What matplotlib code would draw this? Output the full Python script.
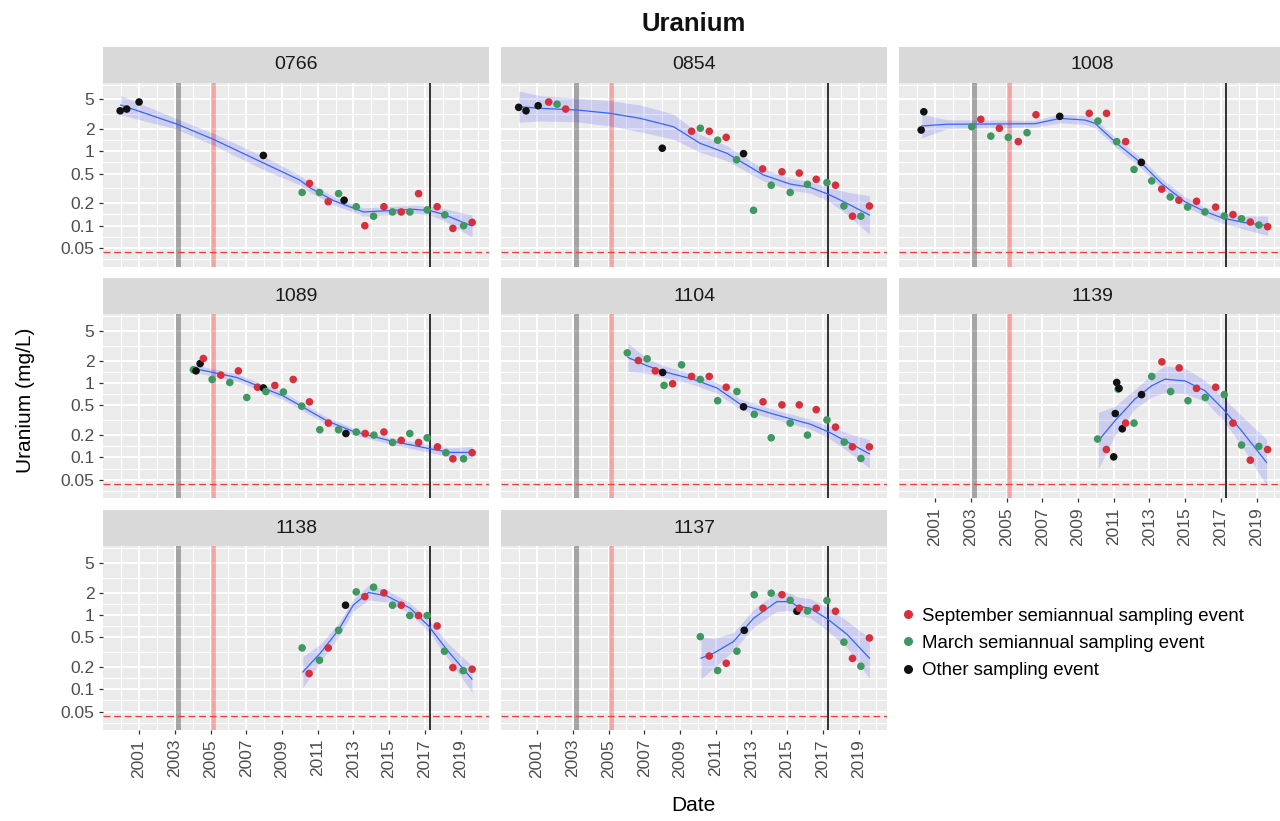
# Uranium concentrations by well, faceted (ggplot-like layout)

import numpy as np
import matplotlib.pyplot as plt
from matplotlib.lines import Line2D
from matplotlib.ticker import NullFormatter

plt.rcParams['font.family'] = ['Liberation Sans', 'DejaVu Sans']

# ---- data (year, mg/L, event: S=September, M=March, O=other)
yr_0766 = [1999.94, 2000.31, 2001.0, 2007.96, 2010.13, 2010.54, 2011.1, 2011.59, 2012.17, 2012.48,
           2013.16, 2013.64, 2014.13, 2014.71, 2015.19, 2015.68, 2016.16, 2016.65, 2017.13, 2017.69,
           2018.12, 2018.57, 2019.17, 2019.65]
u_0766 = [3.5, 3.7, 4.6, 0.88, 0.28, 0.37, 0.28, 0.21, 0.27, 0.22,
          0.18, 0.10, 0.134, 0.18, 0.153, 0.153, 0.153, 0.27, 0.163, 0.18,
          0.14, 0.092, 0.10, 0.111]
ev_0766 = "OOOOMSMSMOMSMSMSMSMSMSMS"

yr_0854 = [1999.97, 2000.38, 2001.06, 2001.65, 2002.12, 2002.6, 2008.01, 2009.65, 2010.14, 2010.64,
           2011.11, 2011.59, 2012.17, 2012.56, 2013.12, 2013.63, 2014.11, 2014.71, 2015.17, 2015.68,
           2016.14, 2016.63, 2017.23, 2017.71, 2018.18, 2018.66, 2019.13, 2019.61]
u_0854 = [3.9, 3.5, 4.1, 4.6, 4.3, 3.7, 1.1, 1.86, 2.04, 1.86,
          1.41, 1.54, 0.77, 0.93, 0.161, 0.58, 0.35, 0.53, 0.28, 0.51,
          0.36, 0.42, 0.38, 0.35, 0.184, 0.134, 0.134, 0.184]
ev_0854 = "OOOSMSOSMSMSMOMSMSMSMSMSMSMS"

yr_1008 = [2000.22, 2000.37, 2003.05, 2003.56, 2004.12, 2004.6, 2005.1, 2005.66, 2006.15, 2006.65,
           2007.98, 2009.63, 2010.12, 2010.6, 2011.17, 2011.67, 2012.14, 2012.55, 2013.13, 2013.69,
           2014.17, 2014.65, 2015.14, 2015.64, 2016.11, 2016.71, 2017.19, 2017.68, 2018.16, 2018.65,
           2019.13, 2019.62]
u_1008 = [1.93, 3.4, 2.14, 2.69, 1.6, 2.04, 1.54, 1.35, 1.78, 3.1,
          2.95, 3.24, 2.55, 3.24, 1.35, 1.35, 0.57, 0.71, 0.40, 0.31,
          0.243, 0.22, 0.178, 0.213, 0.153, 0.178, 0.135, 0.141, 0.124, 0.112,
          0.102, 0.097]
ev_1008 = "OOMSMSMSMSOSMSMSMOMSMSMSMSMSMSMS"

yr_1089 = [2004.04, 2004.19, 2004.42, 2004.6, 2005.09, 2005.58, 2006.08, 2006.56, 2007.03, 2007.63,
           2007.96, 2008.1, 2008.6, 2009.08, 2009.63, 2010.11, 2010.54, 2011.12, 2011.6, 2012.17,
           2012.58, 2013.16, 2013.66, 2014.15, 2014.71, 2015.19, 2015.68, 2016.16, 2016.65, 2017.13,
           2017.71, 2018.18, 2018.57, 2019.17, 2019.65]
u_1089 = [1.51, 1.46, 1.83, 2.14, 1.12, 1.28, 1.02, 1.46, 0.64, 0.88,
          0.86, 0.77, 0.93, 0.76, 1.12, 0.49, 0.56, 0.236, 0.29, 0.236,
          0.21, 0.22, 0.21, 0.2, 0.22, 0.159, 0.17, 0.21, 0.159, 0.184,
          0.139, 0.116, 0.096, 0.096, 0.116]
ev_1089 = "MOOSMSMSMSOMSMSMSMSMOMSMSMSMSMSMSMS"

yr_1104 = [2006.05, 2006.67, 2007.16, 2007.62, 2008.03, 2008.11, 2008.59, 2009.09, 2009.65, 2010.14,
           2010.64, 2011.11, 2011.59, 2012.19, 2012.56, 2013.16, 2013.65, 2014.11, 2014.71, 2015.17,
           2015.68, 2016.14, 2016.63, 2017.23, 2017.71, 2018.2, 2018.66, 2019.13, 2019.61]
u_1104 = [2.55, 2.01, 2.12, 1.46, 1.39, 0.93, 0.98, 1.76, 1.23, 1.12,
          1.23, 0.58, 0.88, 0.77, 0.48, 0.38, 0.56, 0.184, 0.51, 0.29,
          0.51, 0.2, 0.44, 0.32, 0.256, 0.161, 0.139, 0.097, 0.139]
ev_1104 = "MSMSOMSMSMSMSMOMSMSMSMSMSMSMS"

yr_1139 = [2010.1, 2010.59, 2011.0, 2011.09, 2011.17, 2011.25, 2011.3, 2011.48, 2011.67, 2012.14,
           2012.56, 2013.13, 2013.7, 2014.19, 2014.67, 2015.16, 2015.64, 2016.13, 2016.71, 2017.19,
           2017.68, 2018.16, 2018.65, 2019.13, 2019.62]
u_1139 = [0.177, 0.128, 0.102, 0.39, 1.02, 0.83, 0.85, 0.243, 0.29, 0.29,
          0.70, 1.23, 1.93, 0.77, 1.6, 0.58, 0.85, 0.64, 0.88, 0.70,
          0.29, 0.147, 0.092, 0.141, 0.128]
ev_1139 = "MSOOOMOOSMOMSMSMSMSMSMSMS"

yr_1138 = [2010.13, 2010.52, 2011.1, 2011.59, 2012.17, 2012.56, 2013.16, 2013.64, 2014.13, 2014.71,
           2015.19, 2015.68, 2016.16, 2016.65, 2017.13, 2017.69, 2018.1, 2018.57, 2019.15, 2019.65]
u_1138 = [0.36, 0.163, 0.246, 0.36, 0.62, 1.35, 2.04, 1.76, 2.36, 1.98,
          1.35, 1.35, 0.98, 0.98, 0.98, 0.71, 0.325, 0.196, 0.178, 0.186]
ev_1138 = "MSMSMOMSMSMSMSMSMSMS"

yr_1137 = [2010.14, 2010.64, 2011.11, 2011.59, 2012.19, 2012.6, 2013.16, 2013.65, 2014.11, 2014.71,
           2015.17, 2015.55, 2015.68, 2016.14, 2016.63, 2017.23, 2017.71, 2018.18, 2018.66, 2019.13,
           2019.61]
u_1137 = [0.51, 0.28, 0.179, 0.224, 0.325, 0.62, 1.87, 1.23, 1.96, 1.87,
          1.57, 1.12, 1.23, 1.13, 1.23, 1.56, 1.12, 0.43, 0.26, 0.204,
          0.49]
ev_1137 = "MSMSMOMSMSMOSMSMSMSMS"

# ---- smooth trend: year, fitted mg/L, band half-width (log10)
fy_0766 = [1999.97, 2003.1, 2005.16, 2008.0, 2010.0, 2010.6, 2011.9, 2013.57, 2016.37, 2017.3, 2018.05, 2019.64]
fit_0766 = [4.19, 2.33, 1.45, 0.69, 0.41, 0.32, 0.217, 0.153, 0.166, 0.159, 0.142, 0.099]
se_0766 = [0.13, 0.07, 0.08, 0.09, 0.065, 0.06, 0.055, 0.055, 0.055, 0.06, 0.08, 0.15]

fy_0854 = [1999.97, 2001.2, 2003.24, 2005.1, 2006.78, 2008.64, 2010.13, 2011.63, 2013.68, 2015.17,
           2016.29, 2017.32, 2018.35, 2019.61]
fit_0854 = [3.98, 3.78, 3.59, 3.24, 2.77, 2.14, 1.28, 0.94, 0.48, 0.363, 0.328, 0.264, 0.2, 0.139]
se_0854 = [0.21, 0.17, 0.16, 0.17, 0.18, 0.17, 0.12, 0.1, 0.08, 0.08, 0.08, 0.09, 0.15, 0.26]

fy_1008 = [2000.26, 2001.65, 2006.6, 2008.0, 2009.4, 2009.95, 2011.17, 2012.56, 2013.68, 2014.99,
           2016.11, 2017.13, 2018.34, 2019.62]
fit_1008 = [2.19, 2.31, 2.35, 2.77, 2.63, 2.38, 1.28, 0.69, 0.37, 0.21, 0.155, 0.126, 0.11, 0.1]
se_1008 = [0.16, 0.06, 0.045, 0.06, 0.06, 0.06, 0.065, 0.07, 0.07, 0.065, 0.06, 0.07, 0.09, 0.13]

fy_1089 = [2004.04, 2005.16, 2006.47, 2007.96, 2009.08, 2010.11, 2011.51, 2013.0, 2015.06, 2017.21, 2018.42, 2019.65]
fit_1089 = [1.57, 1.39, 1.19, 0.86, 0.67, 0.485, 0.311, 0.224, 0.168, 0.132, 0.117, 0.117]
se_1089 = [0.05, 0.05, 0.05, 0.05, 0.05, 0.05, 0.05, 0.045, 0.045, 0.05, 0.06, 0.08]

fy_1104 = [2006.09, 2007.16, 2008.09, 2009.77, 2011.07, 2012.38, 2014.24, 2016.29, 2017.32, 2018.35, 2019.61]
fit_1104 = [2.21, 1.71, 1.43, 1.12, 0.86, 0.52, 0.383, 0.281, 0.221, 0.163, 0.112]
se_1104 = [0.19, 0.1, 0.08, 0.07, 0.07, 0.07, 0.065, 0.065, 0.08, 0.12, 0.19]

fy_1139 = [2010.14, 2011.07, 2012.19, 2013.13, 2013.87, 2014.99, 2016.11, 2017.13, 2018.16, 2019.56]
fit_1139 = [0.168, 0.311, 0.61, 0.92, 1.13, 1.07, 0.79, 0.448, 0.229, 0.086]
se_1139 = [0.38, 0.2, 0.13, 0.15, 0.18, 0.17, 0.14, 0.15, 0.2, 0.31]

fy_1138 = [2010.17, 2011.14, 2012.17, 2013.0, 2013.85, 2014.88, 2016.18, 2017.21, 2018.24, 2019.64]
fit_1138 = [0.171, 0.305, 0.628, 1.36, 2.0, 1.8, 1.23, 0.71, 0.339, 0.137]
se_1138 = [0.21, 0.12, 0.09, 0.08, 0.1, 0.08, 0.07, 0.08, 0.1, 0.18]

fy_1137 = [2010.18, 2010.88, 2012.0, 2013.12, 2014.43, 2015.17, 2015.55, 2016.29, 2017.32, 2018.35, 2019.61]
fit_1137 = [0.262, 0.305, 0.439, 0.9, 1.51, 1.51, 1.32, 1.23, 0.86, 0.55, 0.262]
se_1137 = [0.28, 0.2, 0.12, 0.12, 0.13, 0.12, 0.12, 0.13, 0.16, 0.18, 0.27]

wells = ["0766", "0854", "1008", "1089", "1104", "1139", "1138", "1137"]
event_labels = ["September semiannual sampling event", "March semiannual sampling event",
                "Other sampling event"]
event_colors = {"S": "#D7303C", "M": "#3E9860", "O": "#111111"}

year_ticks = list(range(2001, 2020, 2))
y_breaks = [0.05, 0.1, 0.2, 0.5, 1, 2, 5]
y_labels = ["0.05", "0.1", "0.2", "0.5", "1", "2", "5"]
ref_lines = [2003.2, 2005.15, 2017.3]   # grey, pink, black
limit = 0.044

data = {
    "0766": (yr_0766, u_0766, ev_0766, fy_0766, fit_0766, se_0766),
    "0854": (yr_0854, u_0854, ev_0854, fy_0854, fit_0854, se_0854),
    "1008": (yr_1008, u_1008, ev_1008, fy_1008, fit_1008, se_1008),
    "1089": (yr_1089, u_1089, ev_1089, fy_1089, fit_1089, se_1089),
    "1104": (yr_1104, u_1104, ev_1104, fy_1104, fit_1104, se_1104),
    "1139": (yr_1139, u_1139, ev_1139, fy_1139, fit_1139, se_1139),
    "1138": (yr_1138, u_1138, ev_1138, fy_1138, fit_1138, se_1138),
    "1137": (yr_1137, u_1137, ev_1137, fy_1137, fit_1137, se_1137),
}

# ---- layout in pixels
W, H = 1280, 821
fig = plt.figure(figsize=(W / 100, H / 100), dpi=100)


def box(x0, y0, x1, y1):
    return [x0 / W, 1 - y1 / H, (x1 - x0) / W, (y1 - y0) / H]


col_left = [103, 501, 899]
row_top = [82.7, 314.5, 546.3]
pw, ph, sh = 386.3, 184, 36

# minor y breaks halfway between majors in log space
lb = np.log10(y_breaks)
minor_y = list(10 ** ((lb[:-1] + lb[1:]) / 2)) + [10 ** (lb[0] - (lb[1] - lb[0]) / 2),
                                                  10 ** (lb[-1] + (lb[-1] - lb[-2]) / 2)]

for i, well in enumerate(wells):
    r, c = divmod(i, 3)
    x0, y0 = col_left[c], row_top[r]
    ax = fig.add_axes(box(x0, y0, x0 + pw, y0 + ph))
    ax.set_facecolor("#EBEBEB")
    for s in ax.spines.values():
        s.set_visible(False)
    ax.set_yscale("log")
    ax.set_xlim(1998.98, 2020.61)
    ax.set_ylim(0.0281, 8.36)
    ax.set_xticks(year_ticks, labels=[str(y) for y in year_ticks], rotation=90)
    ax.set_xticks(list(range(2000, 2021, 2)), minor=True)
    ax.set_yticks(y_breaks, labels=y_labels)
    ax.set_yticks(minor_y, minor=True)
    ax.yaxis.set_minor_formatter(NullFormatter())
    ax.grid(which="major", color="white", lw=1.4)
    ax.grid(which="minor", color="white", lw=0.8)
    ax.set_axisbelow(True)
    ax.tick_params(which="minor", length=0)
    ax.tick_params(which="major", length=3.2, width=0.9, color="#333333",
                   labelcolor="#4D4D4D", labelsize=12.5, pad=3)
    if c != 0:
        ax.tick_params(axis="y", left=False, labelleft=False)
    if not (r == 2 or (r == 1 and c == 2)):
        ax.tick_params(axis="x", bottom=False, labelbottom=False)

    ax.axvline(ref_lines[0], color="black", alpha=0.3, lw=3.6, zorder=1.5)
    ax.axvline(ref_lines[1], color="red", alpha=0.3, lw=3.4, zorder=1.5)
    ax.axvline(ref_lines[2], color="black", lw=1.1, zorder=1.5)
    ax.axhline(limit, color="#EE3B3B", lw=0.9, ls=(0, (5.5, 3)), zorder=1.5)

    yr, u, ev, fy, fit, se = data[well]
    fit = np.array(fit)
    se = np.array(se)
    ax.fill_between(fy, fit * 10 ** -se, fit * 10 ** se, color="blue", alpha=0.13,
                    lw=0, zorder=2)
    ax.plot(fy, fit, color="#3366FF", lw=0.9, zorder=3)
    ax.scatter(yr, u, c=[event_colors[e] for e in ev], s=30, lw=0, zorder=4)

    sax = fig.add_axes(box(x0, y0 - sh, x0 + pw, y0))
    sax.set_facecolor("#D9D9D9")
    sax.set_xticks([])
    sax.set_yticks([])
    for s in sax.spines.values():
        s.set_visible(False)
    sax.text(0.5, 0.5, well, ha="center", va="center", fontsize=14, color="#1A1A1A",
             transform=sax.transAxes)

fig.text(693.7 / W, 1 - 24 / H, "Uranium", ha="center", va="center", fontsize=18.5,
         fontweight="bold", color="#111111")
fig.text(693.7 / W, 1 - 805 / H, "Date", ha="center", va="center", fontsize=15)
fig.text(26 / W, 1 - 400 / H, "Uranium (mg/L)", ha="center", va="center", rotation=90,
         fontsize=15)

handles = [Line2D([], [], ls="", marker="o", markersize=6.5, markeredgewidth=0,
                  color=event_colors[k]) for k in "SMO"]
fig.legend(handles, event_labels, loc="center left", bbox_to_anchor=(902 / W, 1 - 643.5 / H),
           frameon=False, fontsize=13.4, handlelength=0.6, handletextpad=0.5,
           labelspacing=0.55, borderpad=0, borderaxespad=0)

fig.savefig("out.png", dpi=100)
